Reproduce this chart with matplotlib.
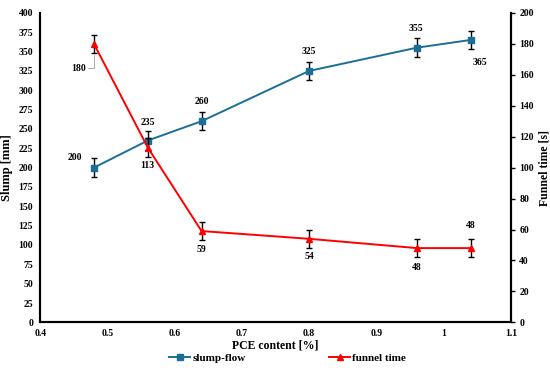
"""
坍落度与漏斗时间 vs PCE 掺量
"""
import matplotlib.pyplot as plt
from matplotlib.lines import Line2D

pce = [0.48, 0.56, 0.64, 0.80, 0.96, 1.04]
slump = [200, 235, 260, 325, 355, 365]
slump_err = [12, 12, 12, 12, 12, 12]
funnel = [180, 113, 59, 54, 48, 48]
funnel_err = [6, 6, 6, 6, 6, 6]

# 数据标签偏移 (points)
slump_off = [(-14, 7), (0, 13), (0, 14), (0, 14), (-1, 14), (7, -16)]
funnel_off = [(-14, -8), (0, -13), (0, -13), (0, -13), (0, -14), (0, 16)]

plt.rcParams['font.family'] = ['Liberation Serif', 'DejaVu Serif']
plt.rcParams['font.weight'] = 'bold'

blue = '#1B6F96'
red = '#FF0000'

fig = plt.figure(figsize=(5.5, 3.68), dpi=100)
ax = fig.add_axes([0.073, 0.124, 0.856, 0.841])
ax2 = ax.twinx()

ax.errorbar(pce, slump, yerr=slump_err, color=blue, marker='s', ms=4,
            lw=1.4, ecolor='black', elinewidth=1, capsize=2, capthick=1, zorder=3)
ax2.errorbar(pce, funnel, yerr=funnel_err, color=red, marker='^', ms=4.5,
             lw=1.4, ecolor='black', elinewidth=1, capsize=2, capthick=1, zorder=3)

for x, y, (dx, dy) in zip(pce, slump, slump_off):
    ax.annotate(str(y), (x, y), xytext=(dx, dy), textcoords='offset points',
                ha='center', va='center', fontsize=7)
for i, (x, y, (dx, dy)) in enumerate(zip(pce, funnel, funnel_off)):
    if i == 0:
        # 第一个点带引线
        ax2.annotate(str(y), (x, y - funnel_err[i]), xytext=(-6, -11),
                     textcoords=('offset points', 'offset points'),
                     ha='right', va='center', fontsize=7,
                     arrowprops=dict(arrowstyle='-', color='#aaaaaa', lw=0.7,
                                     shrinkA=0, shrinkB=1,
                                     connectionstyle='angle,angleA=0,angleB=90,rad=0'))
    else:
        ax2.annotate(str(y), (x, y), xytext=(dx, dy), textcoords='offset points',
                     ha='center', va='center', fontsize=7)

ax.set_xlim(0.4, 1.1)
ax.set_ylim(0, 400)
ax2.set_ylim(0, 200)
ax.set_xticks([0.4, 0.5, 0.6, 0.7, 0.8, 0.9, 1.0, 1.1])
ax.set_xticklabels(['0.4', '0.5', '0.6', '0.7', '0.8', '0.9', '1', '1.1'])
ax.set_yticks(range(0, 401, 25))
ax2.set_yticks(range(0, 201, 20))

for a in (ax, ax2):
    a.spines['top'].set_visible(False)
    a.tick_params(labelsize=7, length=0, pad=5)
    for s in a.spines.values():
        s.set_linewidth(1.5)
ax2.tick_params(axis='y', length=3, width=1, pad=3)
ax.tick_params(axis='x', pad=5)

ax.set_xlabel('PCE content [%]', fontsize=8.5, fontweight='bold', labelpad=1)
ax.set_ylabel('Slump [mm]', fontsize=9, fontweight='bold', labelpad=4)
ax2.set_ylabel('Funnel time [s]', fontsize=8.5, fontweight='bold', labelpad=3)

h1 = Line2D([], [], color=blue, marker='s', ms=4, lw=1.4)
h2 = Line2D([], [], color=red, marker='^', ms=4.5, lw=1.4)
fig.legend([h1, h2], ['slump-flow', 'funnel time'], loc='center',
           bbox_to_anchor=(0.523, 0.028), ncol=2, frameon=False, fontsize=8,
           columnspacing=7.5, handlelength=1.9, handletextpad=0.2,
           borderpad=0)

plt.savefig('out.png', dpi=100)
plt.close()
